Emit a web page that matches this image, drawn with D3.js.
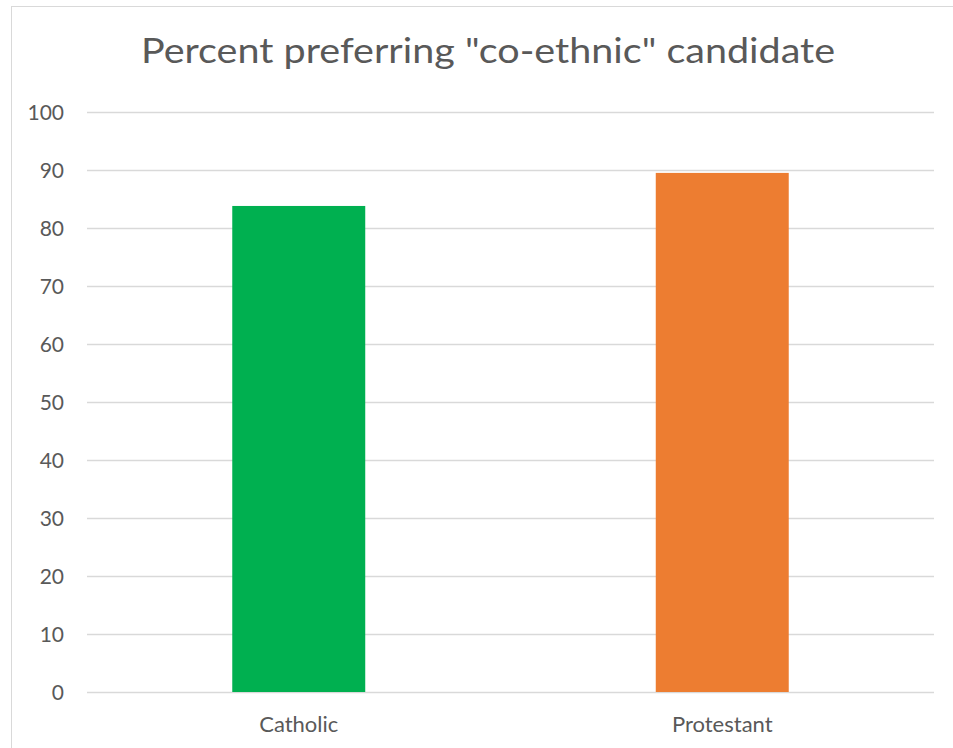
<!DOCTYPE html>
<html><head><meta charset="utf-8">
<script src="https://cdn.jsdelivr.net/npm/d3@7"></script>
<style>body{margin:0;background:#fff}svg{display:block}</style>
</head><body>
<script>
const categories = ["Catholic", "Protestant"];
const values = [83.8, 89.5];
const colors = ["#00B050", "#ED7D31"];
const yTicks = [0, 10, 20, 30, 40, 50, 60, 70, 80, 90, 100];
const title = 'Percent preferring "co-ethnic" candidate';

(function () {
const W = 953, H = 748;
const svg = d3.select("body").append("svg").attr("width", W).attr("height", H);
svg.append("rect").attr("x", 11.5).attr("y", 6.5).attr("width", 960).attr("height", 760)
  .attr("fill", "#fff").attr("stroke", "#d9d9d9").attr("stroke-width", 1);

const pLeft = 87, pRight = 934, pTop = 112, pBottom = 692;
const x = d3.scaleBand().domain(categories).range([pLeft, pRight]).paddingInner(0.686).paddingOuter(0.343);
const y = d3.scaleLinear().domain([0, 100]).range([pBottom, pTop]);
const font = "Lato, 'Open Sans', sans-serif";

svg.append("g").selectAll("line").data(yTicks).join("line")
  .attr("x1", pLeft).attr("x2", pRight)
  .attr("y1", d => Math.round(y(d)) + 0.5).attr("y2", d => Math.round(y(d)) + 0.5)
  .attr("stroke", "#d9d9d9").attr("stroke-width", 1.3);

const yAxis = svg.append("g").attr("transform", `translate(${pLeft - 23},0)`)
  .call(d3.axisLeft(y).tickValues(yTicks).tickSize(0).tickPadding(0));
yAxis.select(".domain").remove();
yAxis.selectAll("text").attr("fill", "#595959").attr("dy", "0.34em")
  .style("font-family", font).style("font-size", "21px");

svg.append("g").selectAll("rect").data(values).join("rect")
  .attr("x", (d, i) => x(categories[i]))
  .attr("width", x.bandwidth())
  .attr("y", d => y(d))
  .attr("height", d => y(0) - y(d))
  .attr("fill", (d, i) => colors[i]);

const xAxis = svg.append("g").attr("transform", `translate(0,${pBottom})`)
  .call(d3.axisBottom(x).tickSize(0).tickPadding(0));
xAxis.select(".domain").remove();
xAxis.selectAll("text").attr("fill", "#595959").attr("dy", null).attr("y", 40)
  .style("font-family", font).style("font-size", "22px");

svg.append("text").attr("x", 488).attr("y", 63).attr("text-anchor", "middle")
  .attr("fill", "#595959").style("font-family", font).style("font-size", "35px")
  .attr("textLength", 694).attr("lengthAdjust", "spacingAndGlyphs")
  .text(title);
})();
</script>
</body></html>
